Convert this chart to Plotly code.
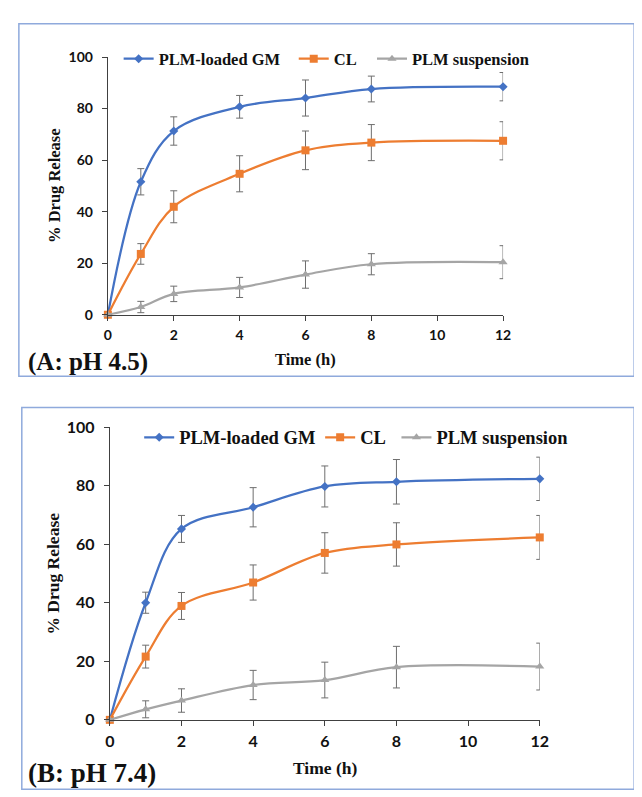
import plotly.graph_objects as go

# ---------------- data ----------------
time_h = [0, 1, 2, 4, 6, 8, 12]
x_ticks = [0, 2, 4, 6, 8, 10, 12]
y_ticks = [0, 20, 40, 60, 80, 100]
series_names = ["PLM-loaded GM", "CL", "PLM suspension"]

gm_ph45 = [0, 51.6, 71.3, 80.7, 84.1, 87.6, 88.5]
gm_ph45_err = [0, 5.1, 5.5, 4.4, 7.0, 5.0, 5.5]
cl_ph45 = [0, 23.6, 41.9, 54.7, 63.8, 66.8, 67.5]
cl_ph45_err = [0, 4.0, 6.2, 7.0, 7.5, 7.0, 7.4]
susp_ph45 = [0, 3.0, 8.1, 10.6, 15.6, 19.6, 20.4]
susp_ph45_err = [0, 2.2, 3.0, 3.9, 5.3, 4.1, 6.4]

gm_ph74 = [0, 40.0, 65.2, 72.6, 79.7, 81.3, 82.3]
gm_ph74_err = [0, 3.6, 4.6, 6.7, 7.0, 7.6, 7.4]
cl_ph74 = [0, 21.6, 38.9, 46.9, 57.0, 59.9, 62.3]
cl_ph74_err = [0, 3.9, 4.6, 6.0, 6.9, 7.4, 7.5]
susp_ph74 = [0, 3.6, 6.6, 11.9, 13.6, 18.0, 18.2]
susp_ph74_err = [0, 2.9, 4.0, 5.0, 6.1, 7.1, 8.0]

panel_labels = ["(A: pH 4.5)", "(B: pH 7.4)"]
x_title = "Time (h)"
y_title = "% Drug Release"

# ---------------- styling ----------------
W, H = 642, 797
SERIF = "Liberation Serif"
SANS = "Lato"
colors = ["#4472C4", "#ED7D31", "#A5A5A5"]
symbols = ["diamond", "square", "triangle-up"]
msizes = [7, 8, 8]
AXIS_COLOR = "#404040"
ERR_COLOR = "#6e6e6e"
BORDER_COLOR = "#8FAADC"
LEGEND_OFFSET = 19  # plotly's inner offset from legend x to sample-line start (+ compromise)


def px(xp):
    return xp / W


def py(yp):
    return 1 - yp / H


panels = [
    dict(
        series=[(gm_ph45, gm_ph45_err), (cl_ph45, cl_ph45_err), (susp_ph45, susp_ph45_err)],
        x0=97, x1=501, y0=304, y1=40,
        border=(6, 6, 635, 367),
        tick_size=14, legend_size=16.5, title_size=16.5, label_size=25,
        legend_pos=[127, 306, 386], legend_y=42,
        ytitle_x=43, xtitle_y=350, label_y=352,
        xaxis="x", yaxis="y",
    ),
    dict(
        series=[(gm_ph74, gm_ph74_err), (cl_ph74, cl_ph74_err), (susp_ph74, susp_ph74_err)],
        x0=99, x1=538.5, y0=719, y1=419,
        border=(9, 399, 635, 790),
        tick_size=16, legend_size=18.5, title_size=17.5, label_size=27,
        legend_pos=[148, 333, 411], legend_y=430,
        ytitle_x=41, xtitle_y=768, label_y=773,
        xaxis="x2", yaxis="y2",
    ),
]

fig = go.Figure()
layout = dict(
    width=W, height=H,
    margin=dict(l=0, r=0, t=0, b=0),
    paper_bgcolor="white", plot_bgcolor="white",
    showlegend=True,
    shapes=[], annotations=[],
)

leg_idx = 0
for pi, p in enumerate(panels):
    for si, (vals, errs) in enumerate(p["series"]):
        leg_idx += 1
        leg_name = "legend" if leg_idx == 1 else f"legend{leg_idx}"
        fig.add_trace(go.Scatter(
            x=time_h, y=vals,
            name=f"<b>{series_names[si]}</b>",
            mode="lines+markers",
            line=dict(color=colors[si], width=2.25, shape="spline", smoothing=1.0),
            marker=dict(color=colors[si], symbol=symbols[si], size=msizes[si]),
            error_y=dict(type="data", array=errs, visible=True, color=ERR_COLOR,
                         thickness=1, width=3.5),
            xaxis=p["xaxis"], yaxis=p["yaxis"],
            cliponaxis=False,
            showlegend=True,
            legend=leg_name,
        ))
        layout[leg_name] = dict(
            x=px(p["legend_pos"][si] - LEGEND_OFFSET), y=py(p["legend_y"]),
            xanchor="left", yanchor="middle",
            orientation="h", bgcolor="rgba(0,0,0,0)", borderwidth=0,
            font=dict(family=SERIF, size=p["legend_size"], color="#111111"),
            itemsizing="trace", visible=True,
        )

    xa = "xaxis" if pi == 0 else "xaxis2"
    ya = "yaxis" if pi == 0 else "yaxis2"
    tick_font = dict(family=SANS, size=p["tick_size"], color="#111111", weight="bold")
    layout[xa] = dict(
        domain=[px(p["x0"]), px(p["x1"])],
        range=[0, 12], tickvals=x_ticks, ticktext=[str(t) for t in x_ticks],
        anchor=p["yaxis"], showgrid=False, zeroline=False,
        showline=True, linecolor=AXIS_COLOR, linewidth=1.3,
        ticks="outside", ticklen=5, tickcolor=AXIS_COLOR, tickwidth=1.3,
        tickfont=tick_font,
        ticklabelstandoff=2,
    )
    layout[ya] = dict(
        domain=[py(p["y0"]), py(p["y1"])],
        range=[0, 100], tickvals=y_ticks, ticktext=[str(t) for t in y_ticks],
        anchor=p["xaxis"], showgrid=False, zeroline=False,
        showline=True, linecolor=AXIS_COLOR, linewidth=1.3,
        ticks="outside", ticklen=5, tickcolor=AXIS_COLOR, tickwidth=1.3,
        tickfont=tick_font,
        ticklabelstandoff=6,
    )

    bx0, by0, bx1, by1 = p["border"]
    layout["shapes"].append(dict(
        type="rect", xref="paper", yref="paper",
        x0=px(bx0), x1=px(bx1), y0=py(by1), y1=py(by0),
        line=dict(color=BORDER_COLOR, width=1.5), fillcolor="rgba(0,0,0,0)",
    ))
    layout["annotations"].append(dict(
        text=f"<b>{y_title}</b>", textangle=-90, showarrow=False,
        xref="paper", yref="paper",
        x=px(p["ytitle_x"]), y=py((p["y0"] + p["y1"]) / 2),
        xanchor="center", yanchor="middle",
        font=dict(family=SERIF, size=p["title_size"], color="#111111"),
    ))
    layout["annotations"].append(dict(
        text=f"<b>{x_title}</b>", showarrow=False,
        xref="paper", yref="paper",
        x=px((p["x0"] + p["x1"]) / 2), y=py(p["xtitle_y"]),
        xanchor="center", yanchor="middle",
        font=dict(family=SERIF, size=p["title_size"], color="#111111"),
    ))
    layout["annotations"].append(dict(
        text=f"<b>{panel_labels[pi]}</b>", showarrow=False,
        xref="paper", yref="paper",
        x=px(13), y=py(p["label_y"]),
        xanchor="left", yanchor="middle",
        font=dict(family=SERIF, size=p["label_size"], color="#111111"),
    ))

fig.update_layout(**layout)
fig.write_html("out.html")
